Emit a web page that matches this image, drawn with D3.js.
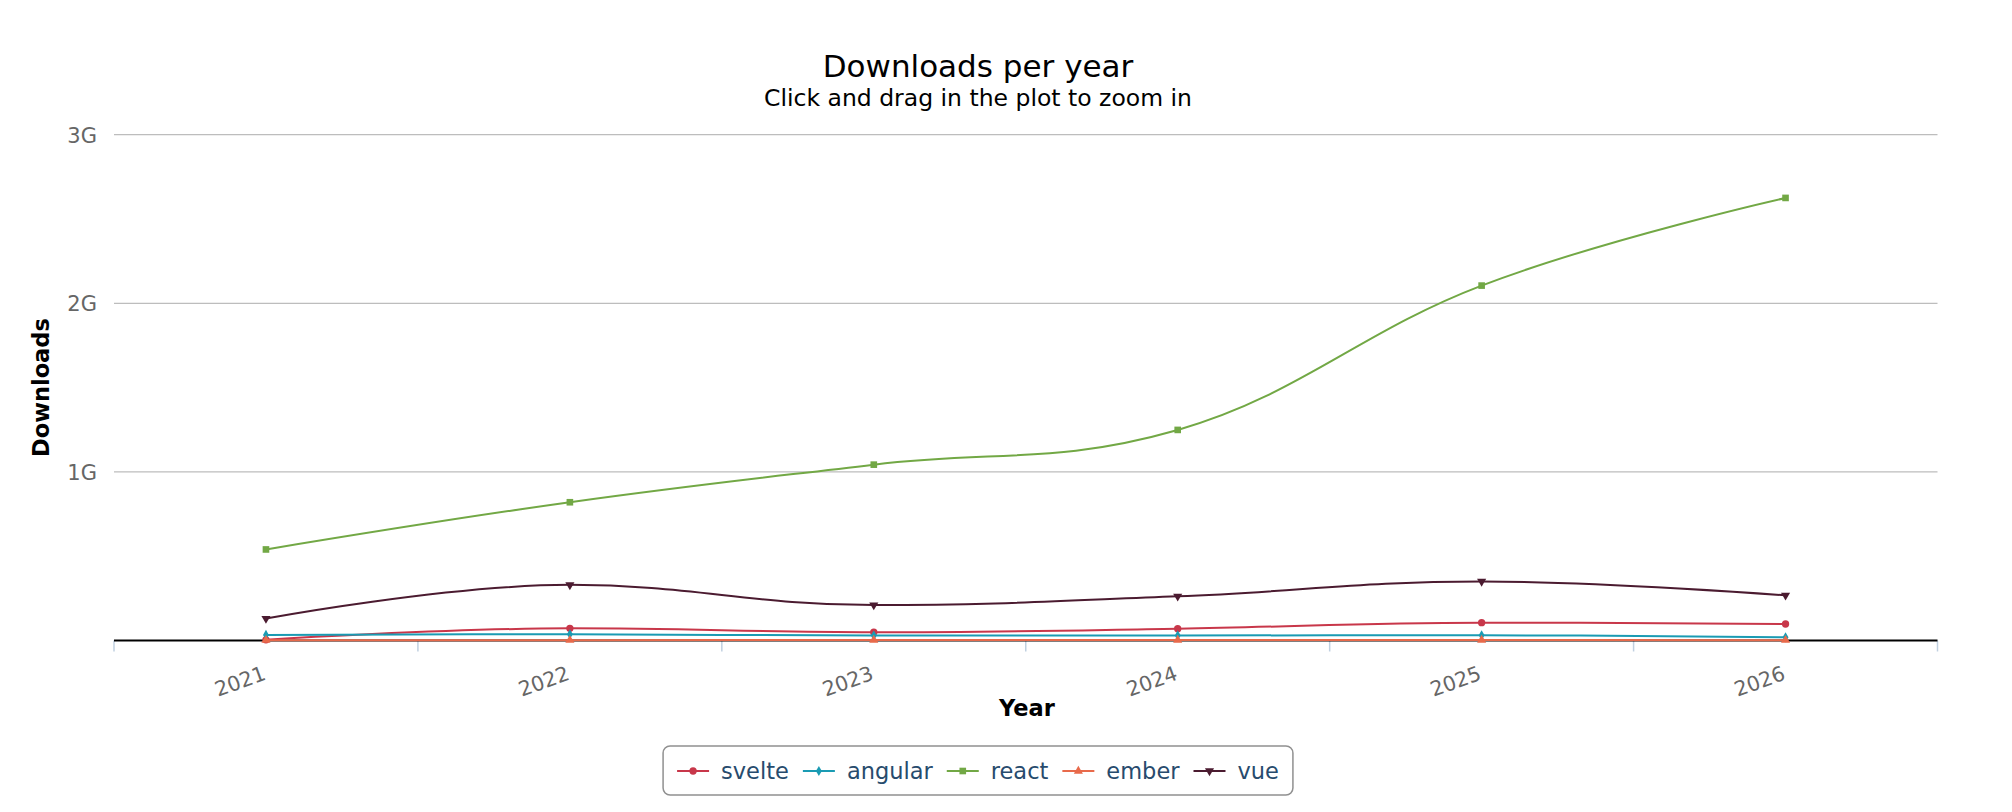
<!DOCTYPE html>
<html>
<head>
<meta charset="utf-8">
<script src="https://cdn.jsdelivr.net/npm/d3@7/dist/d3.min.js"></script>
<style>
  body { margin: 0; background: #ffffff; }
  text { font-family: "DejaVu Sans", Verdana, sans-serif; }
</style>
</head>
<body>
<div id="chart"></div>
<script>
// categories and series (downloads)
var years = ['2021', '2022', '2023', '2024', '2025', '2026'];
var seriesNames = ['svelte', 'angular', 'react', 'ember', 'vue'];
var svelte  = [4e6, 72e6, 49e6, 70e6, 106e6, 98e6];
var angular = [33e6, 37e6, 29e6, 30e6, 31e6, 19e6];
var react   = [540e6, 820e6, 1043e6, 1249e6, 2105e6, 2625e6];
var ember   = [2e6, 2e6, 3e6, 3e6, 3e6, 2e6];
var vue     = [130e6, 330e6, 210e6, 262e6, 350e6, 268e6];
var yTicks  = [1e9, 2e9, 3e9];

var seriesColors = ['#c8374a', '#1a9bb3', '#72a845', '#e86a4b', '#4b1b30'];
var symbolTypes = ['circle', 'diamond', 'square', 'triangle', 'triangle-down'];

create_chart();
function create_chart(){
    var width = 2012, height = 812;
    var plot = {left: 114, right: 1937.5, top: 134.7, bottom: 640.5};
    var centerX = 978;

    var data = [svelte, angular, react, ember, vue];

    var svg = d3.select('#chart')
      .append('svg')
      .attr('width', width)
      .attr('height', height);

    var x = d3.scaleBand()
              .domain(years)
              .range([plot.left, plot.right]);
    var y = d3.scaleLinear()
              .domain([0, 3e9])
              .range([plot.bottom, plot.top]);
    var fmt = d3.format('~s');

    // titles
    svg.append('text')
       .attr('x', centerX).attr('y', 77)
       .attr('text-anchor', 'middle')
       .style('font-size', '31px')
       .style('fill', '#000')
       .text('Downloads per year');
    svg.append('text')
       .attr('x', centerX).attr('y', 106)
       .attr('text-anchor', 'middle')
       .style('font-size', '23.5px')
       .style('fill', '#000')
       .text('Click and drag in the plot to zoom in');

    // grid lines + y labels
    svg.selectAll('.grid')
       .data(yTicks)
       .enter()
       .append('line')
       .attr('class', 'grid')
       .attr('x1', plot.left).attr('x2', plot.right)
       .attr('y1', function(d){ return y(d)}).attr('y2', function(d){ return y(d)})
       .attr('stroke', '#bdbdbd')
       .attr('stroke-width', 1.3);
    svg.selectAll('.ylabel')
       .data(yTicks)
       .enter()
       .append('text')
       .attr('class', 'ylabel')
       .attr('x', 97)
       .attr('y', function(d){ return y(d) + 8})
       .attr('text-anchor', 'end')
       .style('font-size', '21px')
       .style('fill', '#666')
       .text(function(d){ return fmt(d)});

    // x axis: ticks on the category edges
    var edges = years.map(function(d){ return x(d)}).concat([plot.right]);
    svg.selectAll('.xtick')
       .data(edges)
       .enter()
       .append('line')
       .attr('class', 'xtick')
       .attr('x1', function(d){ return d}).attr('x2', function(d){ return d})
       .attr('y1', plot.bottom).attr('y2', plot.bottom + 11)
       .attr('stroke', '#c0d0e0')
       .attr('stroke-width', 1.5);
    svg.append('line')
       .attr('x1', plot.left).attr('x2', plot.right)
       .attr('y1', plot.bottom).attr('y2', plot.bottom)
       .attr('stroke', '#000')
       .attr('stroke-width', 2.2);
    svg.selectAll('.xlabel')
       .data(years)
       .enter()
       .append('text')
       .attr('class', 'xlabel')
       .attr('transform', function(d){ return 'translate(' + (x(d) + x.bandwidth()/2 + 1) + ',679) rotate(-20)'})
       .attr('text-anchor', 'end')
       .style('font-size', '20.5px')
       .style('fill', '#666')
       .text(function(d){ return d});

    // axis titles
    svg.append('text')
       .attr('x', 1027).attr('y', 716)
       .attr('text-anchor', 'middle')
       .style('font-size', '22.5px')
       .style('font-weight', 'bold')
       .text('Year');
    svg.append('text')
       .attr('transform', 'translate(49,' + ((plot.top + plot.bottom)/2) + ') rotate(-90)')
       .attr('text-anchor', 'middle')
       .style('font-size', '22.5px')
       .style('font-weight', 'bold')
       .text('Downloads');

    // series
    var sym = function(t){
        if (t == 'circle') return d3.symbol().type(d3.symbolCircle).size(42)();
        if (t == 'diamond') return d3.symbol().type(d3.symbolDiamond).size(30)();
        if (t == 'square') return d3.symbol().type(d3.symbolSquare).size(44)();
        return d3.symbol().type(d3.symbolTriangle).size(36)();
    };

    data.forEach(function(vals, si){
        var pts = vals.map(function(v, i){ return [x(years[i]) + x.bandwidth()/2, y(v)]});
        svg.append('path')
           .attr('d', splinePath(pts))
           .attr('fill', 'none')
           .attr('stroke', seriesColors[si])
           .attr('stroke-width', 2);
        svg.selectAll('.m' + si)
           .data(pts)
           .enter()
           .append('path')
           .attr('class', 'm' + si)
           .attr('d', sym(symbolTypes[si]))
           .attr('transform', function(d){
               return 'translate(' + d[0] + ',' + d[1] + ')' + (symbolTypes[si] == 'triangle-down' ? ' rotate(180)' : '');
           })
           .attr('fill', seriesColors[si]);
    });

    // legend
    var legend = svg.append('g');
    var items = legend.selectAll('g')
                      .data(seriesNames)
                      .enter()
                      .append('g');
    items.append('text')
         .attr('x', 44)
         .attr('y', 8)
         .style('font-size', '22.5px')
         .style('fill', '#274b6d')
         .text(function(d){ return d});
    var pos = 0;
    items.each(function(d, i){
        var g = d3.select(this);
        var w = g.select('text').node().getComputedTextLength();
        g.attr('transform', 'translate(' + pos + ',0)');
        g.append('line')
         .attr('x1', 0).attr('x2', 32).attr('y1', 0).attr('y2', 0)
         .attr('stroke', seriesColors[i]).attr('stroke-width', 2);
        g.append('path')
         .attr('d', sym(symbolTypes[i]))
         .attr('transform', 'translate(16,0)' + (symbolTypes[i] == 'triangle-down' ? ' rotate(180)' : ''))
         .attr('fill', seriesColors[i]);
        pos += 44 + w + 14;
    });
    var total = pos - 14;
    var boxW = total + 28;
    legend.attr('transform', 'translate(' + (centerX - total/2) + ',771)');
    legend.insert('rect', ':first-child')
          .attr('x', -14).attr('y', -25)
          .attr('width', boxW).attr('height', 49)
          .attr('rx', 7)
          .attr('fill', '#fff')
          .attr('stroke', '#909090')
          .attr('stroke-width', 1.5);
}

// Highcharts-style spline through the points
function splinePath(pts){
    var p = d3.path();
    var smoothing = 1.5, denom = smoothing + 1;
    var rc = [];
    pts.forEach(function(pt, i){
        var px = pt[0], py = pt[1], lcx, lcy, rcx, rcy;
        if (i > 0 && i < pts.length - 1){
            var lx = pts[i-1][0], ly = pts[i-1][1], nx = pts[i+1][0], ny = pts[i+1][1];
            lcx = (smoothing * px + lx) / denom;
            lcy = (smoothing * py + ly) / denom;
            rcx = (smoothing * px + nx) / denom;
            rcy = (smoothing * py + ny) / denom;
            var corr = ((rcy - lcy) * (rcx - px)) / (rcx - lcx) + py - rcy;
            lcy += corr; rcy += corr;
            if (lcy > ly && lcy > py){ lcy = Math.max(ly, py); rcy = 2 * py - lcy; }
            else if (lcy < ly && lcy < py){ lcy = Math.min(ly, py); rcy = 2 * py - lcy; }
            if (rcy > ny && rcy > py){ rcy = Math.max(ny, py); lcy = 2 * py - rcy; }
            else if (rcy < ny && rcy < py){ rcy = Math.min(ny, py); lcy = 2 * py - rcy; }
            rc[i] = [rcx, rcy];
        }
        if (i == 0){
            p.moveTo(px, py);
        } else {
            var a = rc[i-1] || pts[i-1];
            p.bezierCurveTo(a[0], a[1], lcx === undefined ? px : lcx, lcy === undefined ? py : lcy, px, py);
        }
    });
    return p.toString();
}
</script>
</body>
</html>
